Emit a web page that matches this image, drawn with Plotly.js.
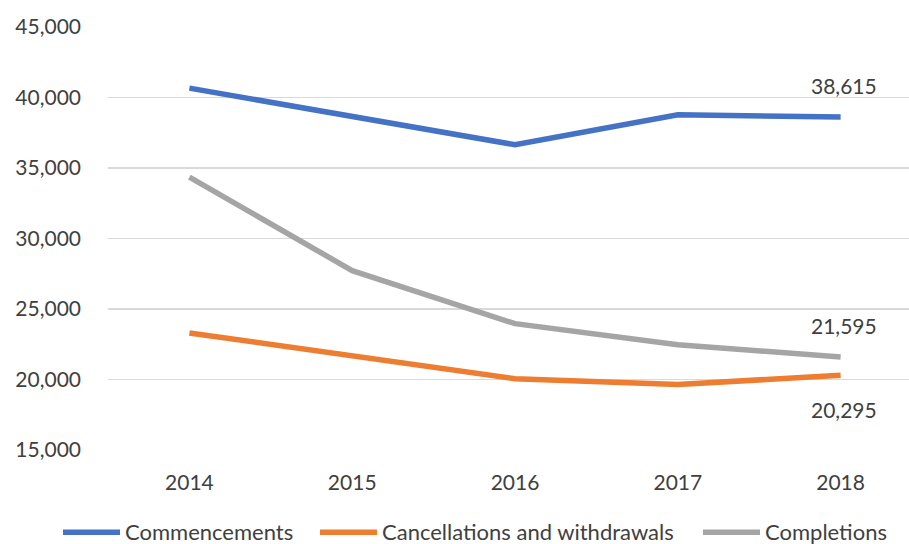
<!DOCTYPE html>
<html>
<head>
<meta charset="utf-8">
<script src="https://cdn.plot.ly/plotly-3.0.1.min.js"></script>
<style>
  html, body { margin: 0; padding: 0; background: #ffffff; }
  #chart { width: 909px; height: 544px; }
</style>
</head>
<body>
<div id="chart"></div>
<script>
// Apprenticeship activity by year
const years = ['2014', '2015', '2016', '2017', '2018'];
const commencements = [40665, 38705, 36650, 38775, 38615];
const cancellations = [23300, 21650, 20050, 19650, 20295];
const completions = [34350, 27720, 23960, 22470, 21595];

const seriesNames = ['Commencements', 'Cancellations and withdrawals', 'Completions'];
const seriesColors = ['#4472C4', '#ED7D31', '#A5A5A5'];
const yTicks = [15000, 20000, 25000, 30000, 35000, 40000, 45000];

const FONT = 'Lato, "Open Sans", sans-serif';
const TEXT = '#404040';

const W = 909, H = 544;
const M = { l: 108, r: 0, t: 26.5, b: 93.5 };
const plotW = W - M.l - M.r;
const plotH = H - M.t - M.b;
// pixel -> paper coordinates
const px = x => (x - M.l) / plotW;
const py = y => (H - M.b - y) / plotH;

const fmt = v => v.toLocaleString('en-US');

const allSeries = [commencements, cancellations, completions];
const traces = allSeries.map((vals, i) => ({
  type: 'scatter',
  mode: 'lines',
  x: years,
  y: vals,
  name: seriesNames[i],
  line: { color: seriesColors[i], width: 5.5 },
  hoverinfo: 'skip',
  showlegend: false
}));

// Value labels on the final year of each series
const last = years.length - 1;
const labelShift = [32, -34, 32];
const annotations = allSeries.map((vals, i) => ({
  x: last,
  y: vals[last],
  xref: 'x',
  yref: 'y',
  text: fmt(vals[last]),
  showarrow: false,
  xshift: 3,
  yshift: labelShift[i],
  font: { family: FONT, size: 21, color: TEXT }
}));

// Legend row along the bottom
const legendY = 532;
const legendSymbolX = [63, 320, 703];
const legendSymbolLen = 57;
const shapes = [];
seriesNames.forEach((name, i) => {
  const x0 = legendSymbolX[i];
  shapes.push({
    type: 'line',
    xref: 'paper', yref: 'paper',
    x0: px(x0), x1: px(x0 + legendSymbolLen),
    y0: py(legendY + 1), y1: py(legendY + 1),
    line: { color: seriesColors[i], width: 5.5 }
  });
  annotations.push({
    xref: 'paper', yref: 'paper',
    x: px(x0 + legendSymbolLen + 3),
    y: py(legendY),
    xanchor: 'left',
    yanchor: 'middle',
    text: name,
    showarrow: false,
    font: { family: FONT, size: 22, color: TEXT }
  });
});

const layout = {
  width: W,
  height: H,
  margin: M,
  paper_bgcolor: '#ffffff',
  plot_bgcolor: '#ffffff',
  font: { family: FONT, size: 21, color: TEXT },
  showlegend: false,
  xaxis: {
    type: 'category',
    range: [-0.5, 4.42],
    showgrid: false,
    zeroline: false,
    showline: false,
    ticks: '',
    ticklabelstandoff: 18,
    fixedrange: true
  },
  yaxis: {
    range: [15000, 45000],
    tickvals: yTicks,
    ticktext: yTicks.map(fmt),
    showgrid: true,
    gridcolor: '#D9D9D9',
    gridwidth: 1.2,
    zeroline: false,
    showline: false,
    ticks: '',
    ticklabelstandoff: 26,
    fixedrange: true
  },
  shapes: shapes,
  annotations: annotations
};

Plotly.newPlot('chart', traces, layout, { staticPlot: true, displayModeBar: false });
</script>
</body>
</html>
